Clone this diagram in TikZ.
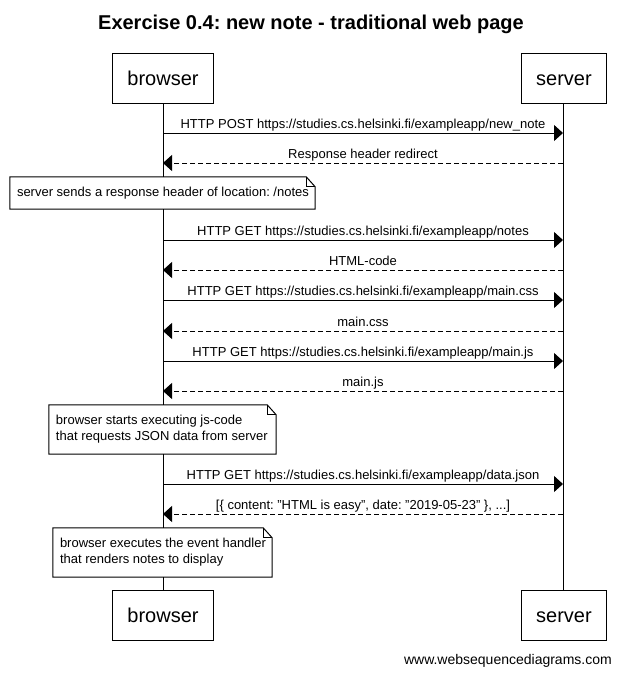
\documentclass[tikz,border=0pt]{standalone}
\usepackage{fontspec}
\setmainfont{Liberation Sans}
\usetikzlibrary{arrows.meta}
\frenchspacing

\tikzset{
  actor/.style={draw, line width=1pt, fill=white, minimum height=50pt,
    inner xsep=15pt, text height=14.6pt, text depth=0pt,
    font=\fontsize{20}{24}\selectfont},
  lifeline/.style={line width=1pt},
  req/.style={line width=1pt, -{Triangle[length=9pt,width=16pt]}},
  resp/.style={req, dash pattern=on 5pt off 3pt},
  msglabel/.style={anchor=base, inner sep=0pt, yshift=5pt,
    font=\fontsize{13}{16}\selectfont},
  notebox/.style={fill=white, inner sep=0pt},
  notetext/.style={anchor=west, inner sep=0pt, align=left,
    font=\fontsize{13}{16}\selectfont},
}

% outline of a note with a folded top-right corner
\newcommand{\notefold}[1]{%
  \draw[line width=1pt, line join=miter]
    (#1.south west) -- (#1.north west) -- ([xshift=-9pt]#1.north east)
    -- ([yshift=-10pt]#1.north east) -- (#1.south east) -- cycle;
  \draw[line width=1pt]
    ([xshift=-9pt]#1.north east) -- ([xshift=-9pt,yshift=-10pt]#1.north east)
    -- ([yshift=-10pt]#1.north east);
}

\begin{document}
\begin{tikzpicture}[x=1pt, y=-1pt]
  \useasboundingbox (0,0) rectangle (621,673);

  % title
  \node[anchor=base, inner sep=0pt, font=\fontsize{20}{24}\selectfont\bfseries]
    (title) at (311,29) {Exercise 0.4: new note - traditional web page};

  % participants
  \node[actor] (bt) at (163,78) {browser};
  \node[actor] (st) at (564,78) {server};
  \node[actor] (bb) at (163,615) {browser};
  \node[actor] (sb) at (564,615) {server};

  \draw[lifeline] (bt.south) -- (bb.north);
  \draw[lifeline] ([xshift=-1pt]st.south) -- ([xshift=-1pt]sb.north);

  % message anchor points on both lifelines
  \foreach \i/\y in {1/133, 2/163, 3/240, 4/270, 5/300, 6/331, 7/361, 8/391, 9/484, 10/514} {
    \coordinate (b\i) at (163,\y);
    \coordinate (s\i) at (563,\y);
  }

  \draw[req] (b1) -- node[msglabel] {HTTP POST https://studies.cs.helsinki.fi/exampleapp/new\_note} (s1);
  \draw[resp] (s2) -- node[msglabel] {Response header redirect} (b2);

  \node[notebox, minimum width=305pt, minimum height=32pt] (n1) at (162.5,193) {};
  \notefold{n1}
  \node[notetext] (n1t) at ([xshift=7pt]n1.west) {server sends a response header of location: /notes};

  \draw[req] (b3) -- node[msglabel] {HTTP GET https://studies.cs.helsinki.fi/exampleapp/notes} (s3);
  \draw[resp] (s4) -- node[msglabel] {HTML-code} (b4);
  \draw[req] (b5) -- node[msglabel] {HTTP GET https://studies.cs.helsinki.fi/exampleapp/main.css} (s5);
  \draw[resp] (s6) -- node[msglabel] {main.css} (b6);
  \draw[req] (b7) -- node[msglabel] {HTTP GET https://studies.cs.helsinki.fi/exampleapp/main.js} (s7);
  \draw[resp] (s8) -- node[msglabel] {main.js} (b8);

  \node[notebox, minimum width=227pt, minimum height=49pt] (n2) at (162.5,429.5) {};
  \notefold{n2}
  \node[notetext] (n2t) at ([xshift=7pt]n2.west) {browser starts executing js-code\\that requests JSON data from server};

  \draw[req] (b9) -- node[msglabel] {HTTP GET https://studies.cs.helsinki.fi/exampleapp/data.json} (s9);
  \draw[resp] (s10) -- node[msglabel] {[\{ content: "HTML is easy", date: "2019-05-23" \}, ...]} (b10);

  \node[notebox, minimum width=219pt, minimum height=49pt] (n3) at (162.5,552.5) {};
  \notefold{n3}
  \node[notetext] (n3t) at ([xshift=7pt]n3.west) {browser executes the event handler\\that renders notes to display};

  % footer
  \node[anchor=base east, inner sep=0pt, font=\fontsize{14}{17}\selectfont]
    (footer) at (612,664) {www.websequencediagrams.com};
\end{tikzpicture}
\end{document}
